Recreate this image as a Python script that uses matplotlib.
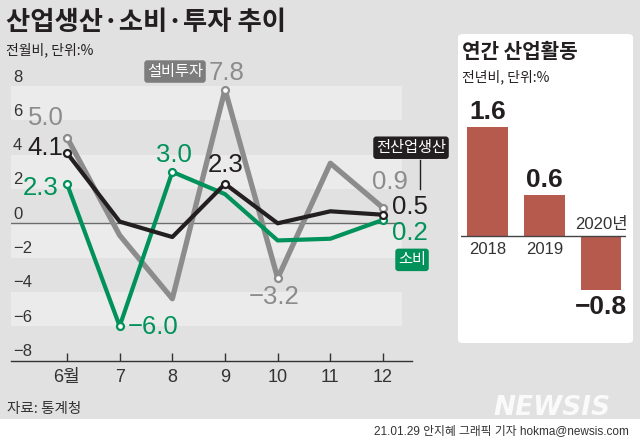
import matplotlib.pyplot as plt
from matplotlib.patches import FancyBboxPatch, Rectangle

# 월별 데이터 (전월비, %)
months = ['6월', '7', '8', '9', '10', '11', '12']
production = [4.1, 0.1, -0.8, 2.3, 0.0, 0.7, 0.5]     # 전산업생산
consumption = [2.3, -6.0, 3.0, 1.7, -1.0, -0.9, 0.2]  # 소비
investment = [5.0, -0.7, -4.4, 7.8, -3.2, 3.5, 0.9]   # 설비투자
yticks = [-8, -6, -4, -2, 0, 2, 4, 6, 8]

# 연간 데이터 (전년비, %)
years = ['2018', '2019', '2020년']
annual = [1.6, 0.6, -0.8]

NUM = ['Liberation Sans Narrow', 'Liberation Sans', 'Noto Sans CJK KR']
KR = ['Noto Sans CJK KR', 'DejaVu Sans']
plt.rcParams['font.family'] = NUM

BG = '#e1e1e1'
GRAY = '#8c8c8c'
GREEN = '#00925a'
BLACK = '#231f20'
RED = '#b65a4d'

W, H = 640, 443
fig = plt.figure(figsize=(6.4, 4.43), dpi=100)
fig.patch.set_facecolor(BG)


def box(x0, y0, x1, y1):
    # 픽셀 좌표 -> figure 좌표
    return [x0 / W, 1 - y1 / H, (x1 - x0) / W, (y1 - y0) / H]


# 하단 흰 띠
fig.patches.append(Rectangle((0, 0), 1, 1 - 419 / H, transform=fig.transFigure,
                             facecolor='white', edgecolor='none', zorder=-5))

# 제목
fig.text(6 / W, 1 - 22 / H, '산업생산·소비·투자 추이', family=KR, fontsize=19,
         fontweight='bold', color=BLACK, va='center', ha='left')
fig.text(6 / W, 1 - 50 / H, '전월비, 단위:%', family=KR, fontsize=10,
         color=BLACK, va='center', ha='left')

# ---------------- 선 그래프 ----------------
ax = fig.add_axes(box(11, 86.1, 412, 360.5))
ax.set_facecolor('none')
x = list(range(len(months)))
ax.set_xlim(-1.063, 6.55)
ax.set_ylim(-8, 8)

band_right = (402 - 11) / (412 - 11)
for lo in [6, 2, -2, -6]:
    ax.axhspan(lo, lo + 2, xmin=0, xmax=band_right, color='#ebebeb', lw=0, zorder=0)
ax.axhline(0, xmin=0, xmax=band_right, color='#6d6d6d', lw=1, zorder=1)

for s in ['top', 'right', 'left']:
    ax.spines[s].set_visible(False)
ax.spines['bottom'].set_color('#333333')
ax.spines['bottom'].set_linewidth(1)
ax.set_xticks(x)
ax.set_xticklabels(months, fontsize=13, color='#333333')
ax.tick_params(axis='x', direction='in', length=6, width=1, color='#333333', pad=6)
ax.set_yticks([])
for v in yticks:
    ax.annotate('−' + str(-v) if v < 0 else str(v), (0, v), xycoords=('axes fraction', 'data'),
                xytext=(2, 9), textcoords='offset pixels', fontsize=12,
                color='#333333', va='center', ha='left')

mk = dict(marker='o', markersize=5, markerfacecolor='white', markeredgewidth=1.6)
ax.plot(x, investment, color=GRAY, lw=3.8, markeredgecolor=GRAY,
        markevery=[0, 3, 4, 6], zorder=3, **mk)
ax.plot(x, consumption, color=GREEN, lw=3.0, markeredgecolor=GREEN,
        markevery=[0, 1, 2, 6], zorder=4, **mk)
ax.plot(x, production, color=BLACK, lw=3.0, markeredgecolor=BLACK,
        markevery=[0, 3, 6], zorder=5, **mk)


def lab(i, series, dx, dy, color, size=18.5):
    v = series[i]
    t = f'{v:.1f}'.replace('-', '−')
    ax.annotate(t, (i, v), xytext=(dx, dy), textcoords='offset pixels',
                fontsize=size, color=color, ha='center', va='center', zorder=6,
                annotation_clip=False)


lab(0, investment, -21, 20, GRAY)
lab(0, production, -22, 5, BLACK)
lab(0, consumption, -26, -4, GREEN)
lab(1, consumption, 33, -1, GREEN)
lab(2, consumption, 2, 17, GREEN)
lab(3, production, 1, 19, BLACK)
lab(3, investment, 2, 17, GRAY)
lab(4, investment, -4, -19, GRAY)
lab(6, investment, 7, 26, GRAY)
lab(6, production, 27, 8, BLACK)
lab(6, consumption, 27, -13, GREEN)

# 범례 라벨 박스
ax.annotate('설비투자', (3, investment[3]), xytext=(-50, 18), textcoords='offset pixels',
            family=KR, fontsize=11, color='white', ha='center', va='center',
            bbox=dict(boxstyle='round,pad=0.18,rounding_size=0.2', fc='#7d7d7d', ec='none'))
ax.annotate('전산업생산', (6, production[6]), xytext=(28, 67), textcoords='offset pixels',
            family=KR, fontsize=11, color='white', ha='center', va='center',
            annotation_clip=False,
            bbox=dict(boxstyle='round,pad=0.18,rounding_size=0.2', fc=BLACK, ec='none'))
ax.plot([6.7, 6.7], [production[6] + 1.5, production[6] + 3.2], color=BLACK, lw=1,
        clip_on=False, zorder=6)
ax.annotate('소비', (6, consumption[6]), xytext=(29, -40), textcoords='offset pixels',
            family=KR, fontsize=11, color='white', ha='center', va='center',
            annotation_clip=False,
            bbox=dict(boxstyle='round,pad=0.18,rounding_size=0.2', fc=GREEN, ec='none'))

# ---------------- 오른쪽 연간 패널 ----------------
fig.patches.append(FancyBboxPatch((458 / W, 1 - 343 / H), 175 / W, 309 / H,
                                  boxstyle='round,pad=0,rounding_size=0.008',
                                  transform=fig.transFigure, facecolor='white',
                                  edgecolor='none', zorder=-5))
fig.text(462 / W, 1 - 52 / H, '연간 산업활동', family=KR, fontsize=14.5,
         fontweight='bold', color=BLACK, va='center', ha='left')
fig.text(462 / W, 1 - 77 / H, '전년비, 단위:%', family=KR, fontsize=10,
         color=BLACK, va='center', ha='left')

bx = fig.add_axes(box(461, 100, 626, 317.6))
bx.set_facecolor('none')
bx.set_xlim(-0.467, 2.44)
bx.set_ylim(-1.2, 2.0)
bx.axis('off')
xb = list(range(len(years)))
bx.bar(xb, annual, width=0.72, color=RED, zorder=2)
bx.axhline(0, color='#444444', lw=1, zorder=3)
for i, v in enumerate(annual):
    t = f'{v:.1f}'.replace('-', '−')
    dy = 15 if v > 0 else -17
    bx.annotate(t, (i, v), xytext=(0, dy), textcoords='offset pixels', fontsize=19,
                fontweight='bold', color=BLACK, ha='center', va='center')
    ydy = -14 if v > 0 else 11
    bx.annotate(years[i], (i, 0), xytext=(0, ydy), textcoords='offset pixels',
                fontsize=12, color='#333333', ha='center', va='center')

# 하단
fig.text(7 / W, 1 - 409 / H, '자료: 통계청', family=KR, fontsize=10.5,
         color='#333333', va='center', ha='left')
fig.text(552 / W, 1 - 408 / H, 'NEWSIS', fontsize=19, fontweight='bold',
         style='italic', color='white', alpha=0.85, family='DejaVu Sans',
         va='center', ha='center')
fig.text(629 / W, 1 - 431 / H, '21.01.29 안지혜 그래픽 기자 hokma@newsis.com',
         family=NUM, fontsize=8.5, color='#333333', va='center', ha='right')

fig.savefig('out.png', dpi=100, facecolor=fig.get_facecolor())
